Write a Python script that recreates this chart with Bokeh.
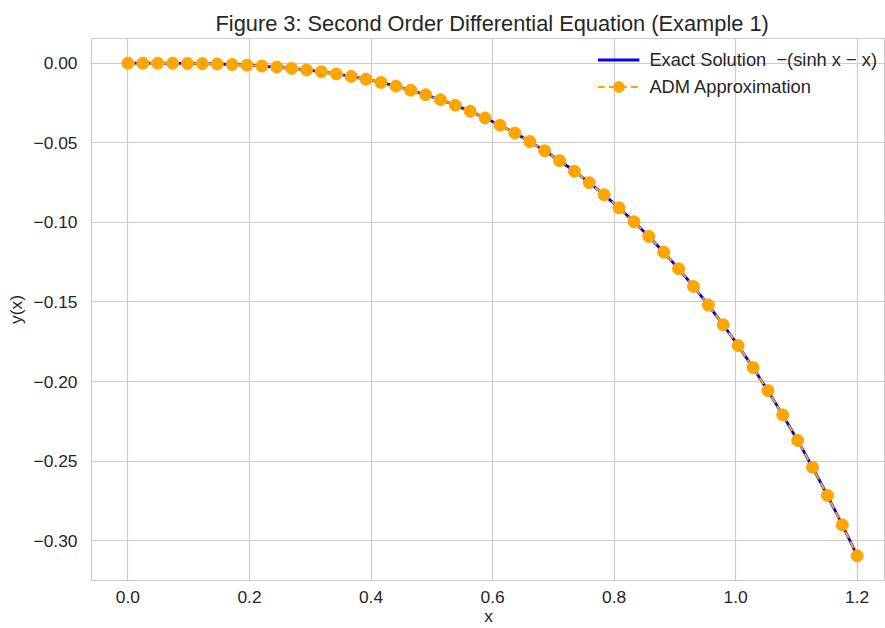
from bokeh.plotting import figure
from bokeh.models import Range1d, FixedTicker, Legend, LegendItem
from bokeh.embed import file_html
from bokeh.resources import INLINE

n_points = 50
x_start, x_end = 0.0, 1.2
x_vals = [x_start + (x_end - x_start) * i / (n_points - 1) for i in range(n_points)]

exact_y = [0.0, -0.00000, -0.00002, -0.00007, -0.00016, -0.00031, -0.00053, -0.00084,
           -0.00126, -0.00179, -0.00246, -0.00327, -0.00425, -0.00541, -0.00676, -0.00832,
           -0.01010, -0.01213, -0.01442, -0.01697, -0.01982, -0.02297, -0.02645, -0.03026,
           -0.03443, -0.03897, -0.04391, -0.04925, -0.05502, -0.06123, -0.06790, -0.07506,
           -0.08271, -0.09089, -0.09960, -0.10888, -0.11873, -0.12919, -0.14026, -0.15198,
           -0.16436, -0.17743, -0.19120, -0.20571, -0.22098, -0.23701, -0.25386, -0.27153,
           -0.29006, -0.30946]
adm_y = list(exact_y)

x_ticks = [0.0, 0.2, 0.4, 0.6, 0.8, 1.0, 1.2]
x_tick_labels = ["0.0", "0.2", "0.4", "0.6", "0.8", "1.0", "1.2"]
y_ticks = [0.0, -0.05, -0.10, -0.15, -0.20, -0.25, -0.30]
y_tick_labels = ["0.00", "\u22120.05", "\u22120.10", "\u22120.15", "\u22120.20", "\u22120.25", "\u22120.30"]

title_text = "Figure 3: Second Order Differential Equation (Example 1)"
label_exact = "Exact Solution  \u2212(sinh x \u2212 x)"
label_adm = "ADM Approximation"

FONT = "Liberation Sans"
TXT = "#262626"
GRID = "#cccccc"

p = figure(width=885, height=628, output_backend="svg", toolbar_location=None,
           x_range=Range1d(-0.06, 1.2466), y_range=Range1d(-0.3250, 0.0155),
           min_border_left=91, min_border_right=0, min_border_top=38, min_border_bottom=48)

p.title.text = title_text
p.title.align = "left"
p.title.offset = 124
p.title.text_font = FONT
p.title.text_font_size = "21.8px"
p.title.text_font_style = "normal"
p.title.text_color = TXT
p.title.standoff = 2
p.title.vertical_align = "top"

p.background_fill_color = "white"
p.border_fill_color = "white"
p.outline_line_color = GRID
p.outline_line_width = 1.2

for ax in (p.xaxis[0], p.yaxis[0]):
    ax.axis_line_color = None
    ax.major_tick_line_color = None
    ax.minor_tick_line_color = None
    ax.major_label_text_font = FONT
    ax.major_label_text_font_size = "17.4px"
    ax.major_label_text_color = TXT
    ax.axis_label_text_font = FONT
    ax.axis_label_text_font_size = "17.4px"
    ax.axis_label_text_font_style = "normal"
    ax.axis_label_text_color = TXT

p.xaxis.ticker = FixedTicker(ticks=x_ticks)
p.xaxis.major_label_overrides = {t: l for t, l in zip(x_ticks, x_tick_labels)}
p.yaxis.ticker = FixedTicker(ticks=y_ticks)
p.yaxis.major_label_overrides = {t: l for t, l in zip(y_ticks, y_tick_labels)}
p.xaxis.axis_label = "x"
p.yaxis.axis_label = "y(x)"
p.xaxis.major_label_standoff = 4
p.yaxis.major_label_standoff = 8
p.xaxis.axis_label_standoff = 0
p.yaxis.axis_label_standoff = 4

p.xgrid.grid_line_color = GRID
p.ygrid.grid_line_color = GRID
p.xgrid.grid_line_width = 1.2
p.ygrid.grid_line_width = 1.2

r_exact = p.line(x_vals, exact_y, line_color="blue", line_width=2.8)
r_adm_line = p.line(x_vals, adm_y, line_color="orange", line_width=2, line_dash="7 4")
r_adm_pts = p.scatter(x_vals, adm_y, marker="circle", size=12, fill_color="orange",
                      line_color="orange")

legend = Legend(items=[LegendItem(label=label_exact, renderers=[r_exact]),
                       LegendItem(label=label_adm, renderers=[r_adm_line, r_adm_pts])],
                location="top_right")
legend.background_fill_alpha = 0
legend.border_line_color = None
legend.label_text_font = FONT
legend.label_text_font_size = "18.3px"
legend.label_text_color = TXT
legend.glyph_width = 42
legend.glyph_height = 27
legend.label_height = 27
legend.spacing = 0
legend.padding = 4
legend.margin = 8
legend.label_standoff = 10
p.add_layout(legend, "center")

open("out.html", "w").write(file_html(p, INLINE))
